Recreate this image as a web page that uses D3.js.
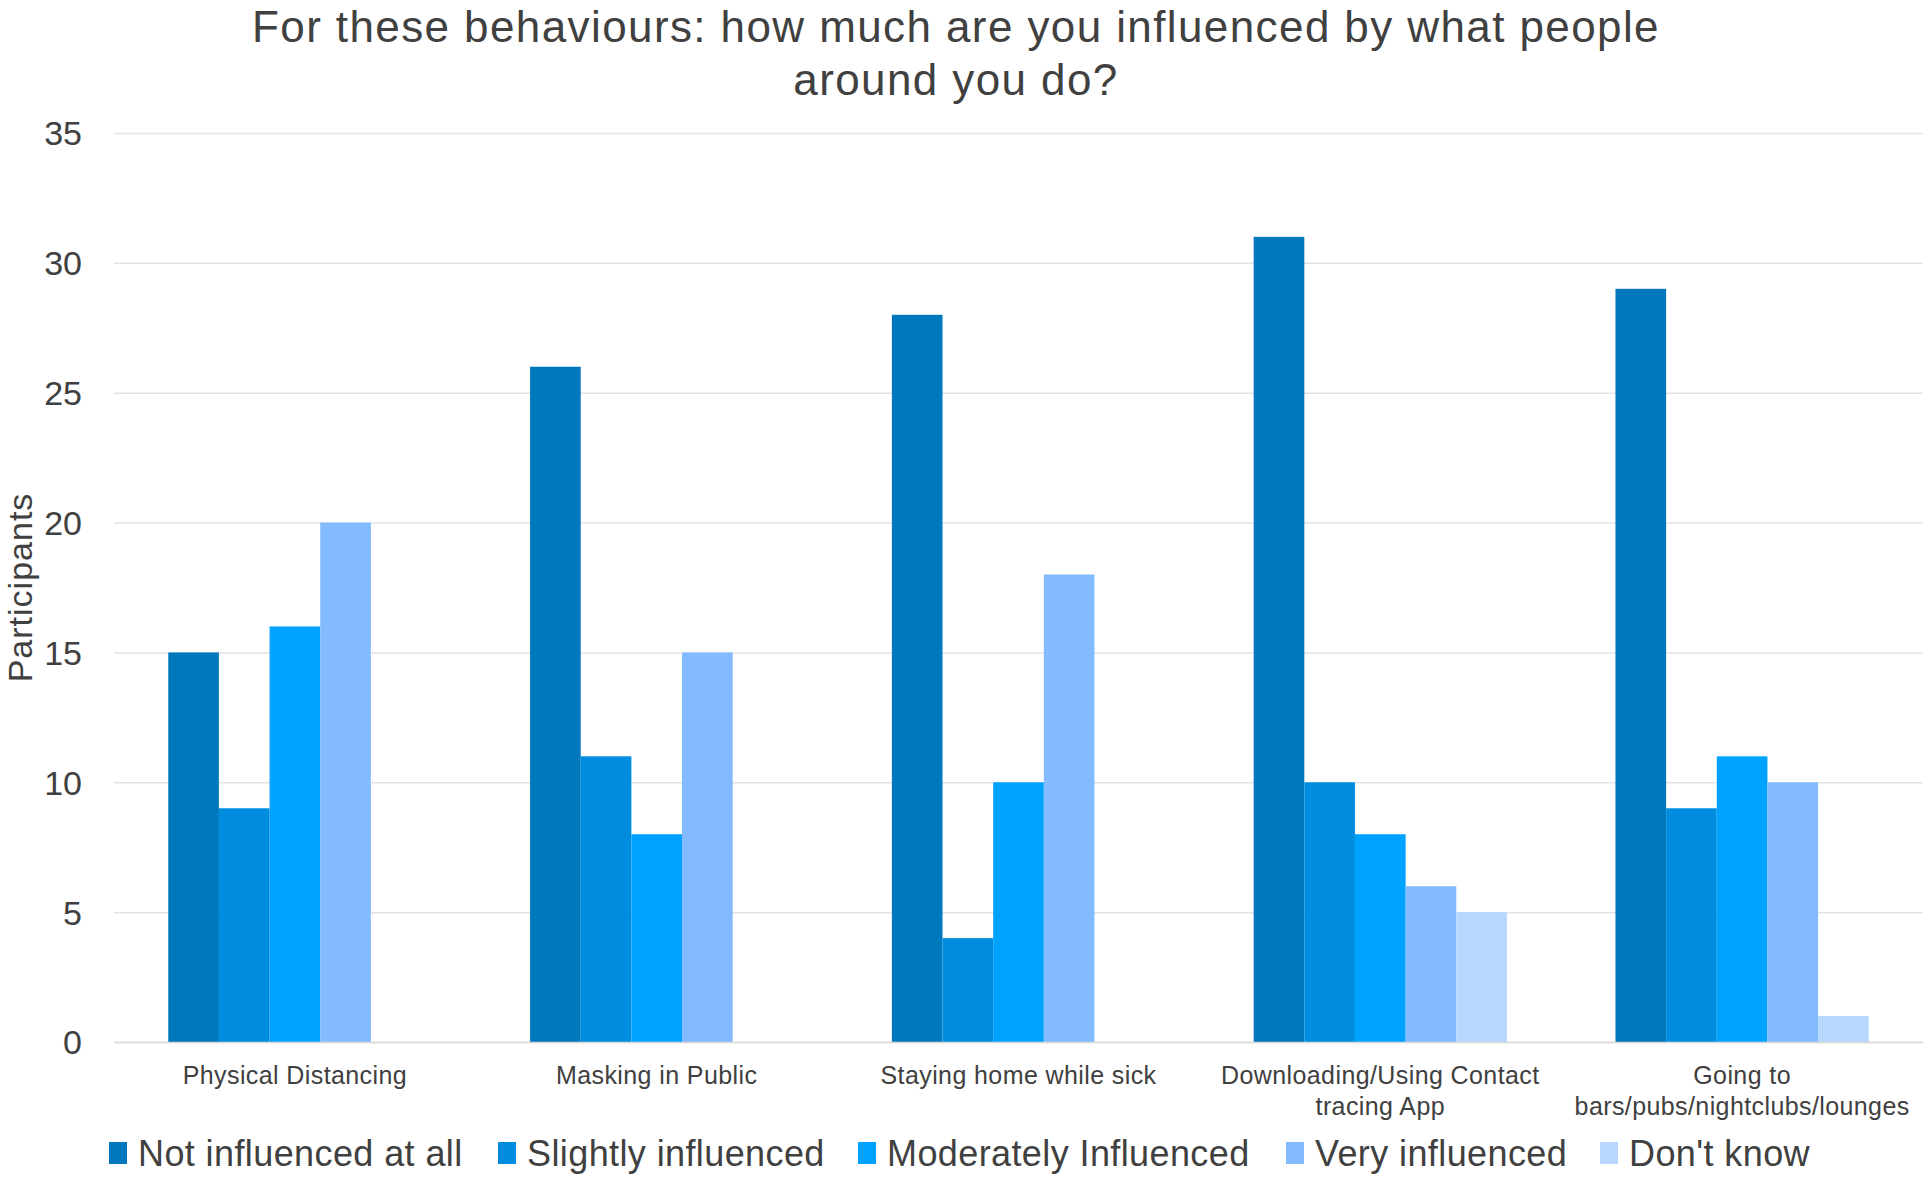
<!DOCTYPE html>
<html>
<head>
<meta charset="utf-8">
<script src="https://cdn.jsdelivr.net/npm/d3@7"></script>
<style>
  body { margin: 0; background: #fff; }
  svg text { font-family: "Helvetica Neue", Helvetica, "Liberation Sans", Arial, sans-serif; fill: #404040; }
</style>
</head>
<body>
<svg id="chart" width="1927" height="1182"></svg>
<script>
const categories = [
  ['Physical Distancing'],
  ['Masking in Public'],
  ['Staying home while sick'],
  ['Downloading/Using Contact', 'tracing App'],
  ['Going to', 'bars/pubs/nightclubs/lounges']
];
const seriesNames = ['Not influenced at all', 'Slightly influenced', 'Moderately Influenced', 'Very influenced', "Don't know"];
const notInfluenced = [15, 26, 28, 31, 29];
const slightly = [9, 11, 4, 10, 9];
const moderately = [16, 8, 10, 8, 11];
const very = [20, 15, 18, 6, 10];
const dontKnow = [0, 0, 0, 5, 1];
const yTicks = [0, 5, 10, 15, 20, 25, 30, 35];

const series = [notInfluenced, slightly, moderately, very, dontKnow];
const colors = ['#0078be', '#008de0', '#00a2ff', '#82bbff', '#b8d7ff'];

const svg = d3.select('#chart');
const plotLeft = 114, plotRight = 1923, plotTop = 133, plotBottom = 1042;

const x0 = d3.scaleBand()
  .domain(d3.range(categories.length))
  .range([plotLeft, plotRight])
  .paddingInner(0.3)
  .paddingOuter(0.15);
const x1 = d3.scaleBand()
  .domain(d3.range(seriesNames.length))
  .range([0, x0.bandwidth()]);
const y = d3.scaleLinear().domain([0, 35]).range([plotBottom, plotTop]);

// title
const title = svg.append('text')
  .attr('text-anchor', 'middle')
  .attr('font-size', 44)
  .attr('letter-spacing', 1.4);
title.append('tspan').attr('x', 956).attr('y', 42).text('For these behaviours: how much are you influenced by what people');
title.append('tspan').attr('x', 956).attr('y', 95).text('around you do?');

// gridlines
const yAxis = d3.axisLeft(y).tickValues(yTicks).tickSize(-(plotRight - plotLeft)).tickPadding(32);
const gy = svg.append('g').attr('transform', `translate(${plotLeft},0)`).call(yAxis);
gy.select('.domain').remove();
gy.selectAll('.tick line').attr('stroke', '#e3e3e3').attr('stroke-width', 1.5);
gy.selectAll('.tick text').attr('font-size', 34).attr('dy', '0.35em').style('fill', '#404040');

// bars
const groups = svg.append('g')
  .selectAll('g')
  .data(categories)
  .join('g')
  .attr('transform', (d, i) => `translate(${x0(i)},0)`);

groups.selectAll('rect')
  .data((d, i) => series.map((s, k) => ({ k, v: s[i] })))
  .join('rect')
  .attr('x', d => x1(d.k))
  .attr('y', d => y(d.v))
  .attr('width', x1.bandwidth())
  .attr('height', d => y(0) - y(d.v))
  .attr('fill', d => colors[d.k]);

// baseline
svg.append('line')
  .attr('x1', plotLeft).attr('x2', plotRight)
  .attr('y1', y(0) + 0.5).attr('y2', y(0) + 0.5)
  .attr('stroke', '#d9d9d9').attr('stroke-width', 1.5);

// category labels
groups.append('text')
  .attr('text-anchor', 'middle')
  .attr('font-size', 25)
  .attr('letter-spacing', 0.4)
  .selectAll('tspan')
  .data(d => d)
  .join('tspan')
  .attr('x', x0.bandwidth() / 2)
  .attr('y', (d, i) => 1084 + i * 31)
  .text(d => d);

// y axis title
svg.append('text')
  .attr('transform', `translate(32,${(plotTop + plotBottom) / 2}) rotate(-90)`)
  .attr('text-anchor', 'middle')
  .attr('font-size', 34)
  .attr('letter-spacing', 1)
  .text('Participants');

// legend
const legendX = [109, 498, 858, 1286, 1600];
const legend = svg.append('g')
  .selectAll('g')
  .data(seriesNames)
  .join('g')
  .attr('transform', (d, i) => `translate(${legendX[i]},1142)`);
legend.append('rect')
  .attr('width', 18).attr('height', 22)
  .attr('fill', (d, i) => colors[i]);
legend.append('text')
  .attr('x', 29).attr('y', 24)
  .attr('font-size', 36)
  .attr('letter-spacing', 0.4)
  .text(d => d);
</script>
</body>
</html>
